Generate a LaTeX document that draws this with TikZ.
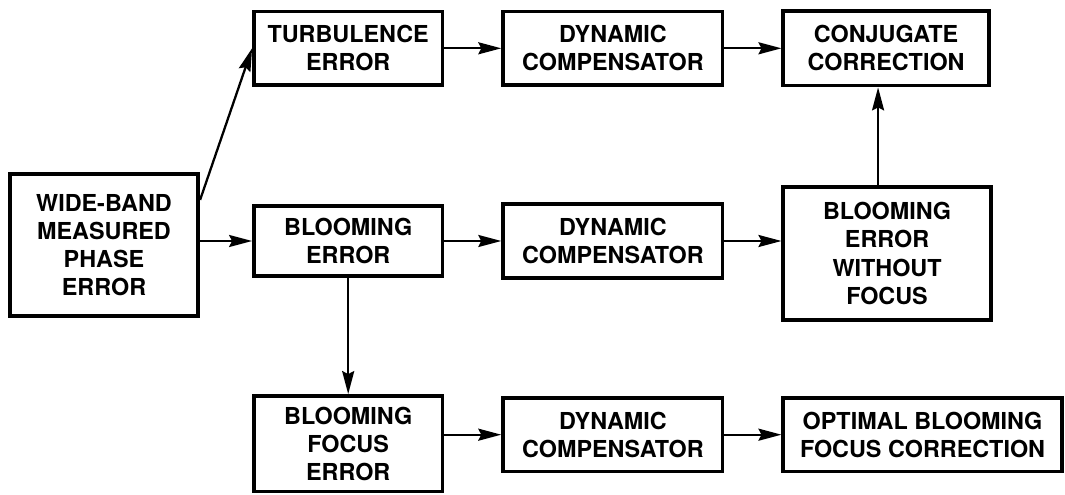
\documentclass[tikz,border=0pt]{standalone}
\usepackage{fontspec}
\setmainfont{TeX Gyre Heros}
\usetikzlibrary{arrows.meta, positioning}

\begin{document}
\begin{tikzpicture}[
            > = {Stealth[length=4.6mm, width=2.4mm, inset=0.6mm]}, % arrow head style
            node distance = 1.14cm, % distance between nodes
            line width = 1.3pt % line style
        ]

        \tikzstyle{blok}=[
            draw = black,
            line width = 2.1pt,
            fill = white,
            align = center,
            inner sep = 2pt,
            minimum width = 3.77cm,
            minimum height = 1.47cm,
            font = \fontsize{13.3}{16}\selectfont\bfseries
        ]
        \tikzstyle{dynblok}=[blok, minimum width = 4.39cm]

        \useasboundingbox (0,0) rectangle (21.3,9.9);

        % left column
        \node[blok, minimum height = 2.83cm] (wide) at (2.08,5.0) {WIDE-BAND\\MEASURED\\PHASE\\ERROR};

        % second column
        \node[blok, minimum height = 1.41cm] (bloom) [right=1.04cm of wide, yshift=0.08cm] {BLOOMING\\ERROR};
        \node[blok] (turb) [above=2.34cm of bloom] {TURBULENCE\\ERROR};
        \node[blok, minimum height = 1.91cm] (bfe) [below=2.32cm of bloom] {BLOOMING\\FOCUS\\ERROR};

        % compensators
        \node[dynblok] (dyn1) [right=of turb] {DYNAMIC\\COMPENSATOR};
        \node[dynblok] (dyn2) [right=of bloom] {DYNAMIC\\COMPENSATOR};
        \node[dynblok] (dyn3) [right=of bfe, yshift=0.18cm] {DYNAMIC\\COMPENSATOR};

        % right column
        \node[blok, minimum width = 4.11cm, minimum height = 1.49cm] (conj) [right=of dyn1] {CONJUGATE\\CORRECTION};
        \node[blok, minimum width = 4.15cm, minimum height = 2.65cm] (bewf) [right=of dyn2, yshift=-0.25cm] {BLOOMING\\ERROR\\WITHOUT\\FOCUS};
        \node[blok, minimum width = 5.57cm] (opt) [right=of dyn3] {OPTIMAL BLOOMING\\FOCUS CORRECTION};

        \path[->] ([yshift=-0.55cm]wide.north east) edge (turb.west);
        \path[->] (wide.east |- bloom) edge (bloom.west);
        \path[->] (turb.east |- dyn1) edge (dyn1.west);
        \path[->] (dyn1.east |- conj) edge (conj.west);
        \path[->] (bloom.east |- dyn2) edge (dyn2.west);
        \path[->] (dyn2.east) edge (dyn2.east -| bewf.west);
        \path[->] (bloom.south) edge (bfe.north);
        \path[->] (bfe.east |- dyn3) edge (dyn3.west);
        \path[->] (dyn3.east) edge (opt.west);
        \path[->] ([xshift=-0.18cm]bewf.north) edge ([xshift=-0.18cm]bewf.north |- conj.south);

\end{tikzpicture}
\end{document}
